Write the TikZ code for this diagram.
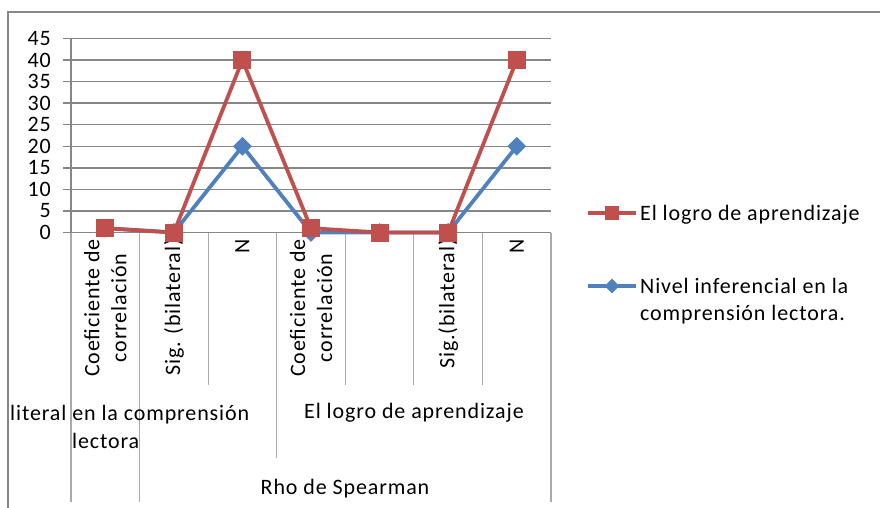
\documentclass[tikz,border=0pt]{standalone}
\usepackage{fontspec}
\setmainfont{Carlito}[LetterSpace=4]
\usetikzlibrary{shapes.geometric, positioning}
\definecolor{serieRed}{RGB}{192,80,77}
\definecolor{serieBlue}{RGB}{79,129,189}
\definecolor{gridGray}{RGB}{134,134,134}
\definecolor{sepGray}{RGB}{170,170,170}

\begin{document}
\begin{tikzpicture}[x=1pt, y=-1pt,
                    font=\fontsize{22}{27}\selectfont,
                    grid line/.style={gridGray, line width=1.5pt},
                    sep line/.style={sepGray, line width=1.2pt},
                    red serie/.style={serieRed, line width=3.8pt, line join=round},
                    blue serie/.style={serieBlue, line width=3.8pt, line join=round},
                    red mark/.style={rectangle, fill=serieRed, minimum size=18pt, inner sep=0pt},
                    blue mark/.style={diamond, fill=serieBlue, minimum size=19pt, inner sep=0pt},
                    cat label/.style={rotate=90, anchor=east, align=center, inner sep=2pt},
                    tick label/.style={anchor=east, inner sep=0pt}]

  \useasboundingbox (0,0) rectangle (880,507);
  \clip (0,0) rectangle (880,507);

  % outer frame
  \draw[gridGray, line width=2.5pt] (8,12) rectangle (900,530);

  % value axis and grid
  \foreach \v in {0,5,...,45} {
    \draw[grid line] (63,{232.5-4.311*\v}) -- (551,{232.5-4.311*\v});
    \node[tick label] (y\v) at (51,{232.5-4.311*\v}) {\v};
  }
  \draw[grid line] (71,38.5) -- (71,232.5);

  % category separators
  \foreach \k/\e in {0/502,1/502,2/385,3/458,4/385,5/385,6/385,7/502}
    \draw[sep line] ({71+68.57*\k},232.5) -- ({71+68.57*\k},\e);

  % category labels
  \foreach \k/\t in {0/{Coeficiente de\\correlación}, 1/{Sig. (bilateral)}, 2/N,
                     3/{Coeficiente de\\correlación}, 5/{Sig.(bilateral)}, 6/N}
    \node[cat label] (c\k) at ({71+68.57*(\k+0.5)},237) {\t};

  \node[anchor=base west, inner sep=0pt] (g1) at (10,420) {literal en la comprensión};
  \node[anchor=base west, inner sep=0pt] (g1b) at (72,448) {lectora};
  \node (g2) at (414,413) {El logro de aprendizaje};
  \node (g3) at (345,489) {Rho de Spearman};

  % data points
  \foreach \k/\r/\b in {0/1/1, 1/0/0, 2/40/20, 3/1/0, 4/0/0, 5/0/0, 6/40/20} {
    \coordinate (r\k) at ({71+68.57*(\k+0.5)},{232.5-4.311*\r});
    \coordinate (b\k) at ({71+68.57*(\k+0.5)},{232.5-4.311*\b});
  }

  \draw[blue serie] (b0) -- (b1) -- (b2) -- (b3) -- (b4) -- (b5) -- (b6);
  \foreach \k in {0,...,6}
    \node[blue mark] (bm\k) at (b\k) {};

  \draw[red serie] (r0) -- (r1) -- (r2) -- (r3) -- (r4) -- (r5) -- (r6);
  \foreach \k in {0,...,6}
    \node[red mark] (rm\k) at (r\k) {};

  % legend
  \coordinate (lr1) at (588,213);
  \coordinate (lr2) at (636,213);
  \draw[red serie] (lr1) -- (lr2);
  \node[red mark, minimum size=14pt] (lrm) at (612,213) {};
  \node[anchor=base west, inner sep=0pt] (lrt) at (640,220) {El logro de aprendizaje};

  \coordinate (lb1) at (588,286);
  \coordinate (lb2) at (636,286);
  \draw[blue serie] (lb1) -- (lb2);
  \node[blue mark, minimum size=15pt] (lbm) at (612,286) {};
  \node[anchor=base west, align=left, inner sep=0pt] (lbt) at (640,320)
    {Nivel inferencial en la\\comprensión lectora.};
\end{tikzpicture}
\end{document}
